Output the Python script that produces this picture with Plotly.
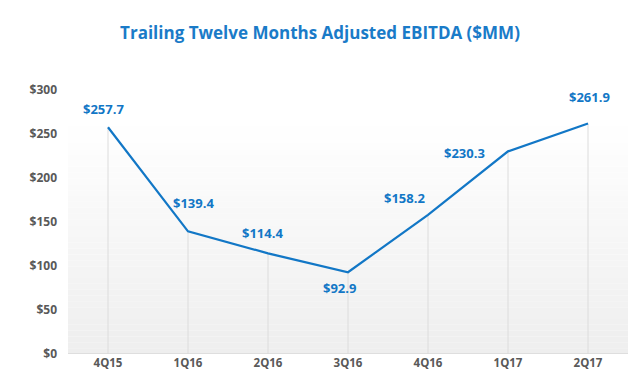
import plotly.graph_objects as go

quarters = ["4Q15", "1Q16", "2Q16", "3Q16", "4Q16", "1Q17", "2Q17"]
ebitda = [257.7, 139.4, 114.4, 92.9, 158.2, 230.3, 261.9]
y_ticks = [0, 50, 100, 150, 200, 250, 300]
y_tick_labels = ["$" + str(v) for v in y_ticks]

# label offsets (pixels) relative to each point: style only
label_dx = [-5, 5, -6, -9, -24, -44, 1]
label_dy = [18, 28, 20, -16, 17, -2, 27]

BLUE = "#1277c6"
GRAY_TXT = "#595959"
FONT = "Open Sans"

fig = go.Figure()

# vertical drop lines
fig.add_trace(go.Scatter(
    x=quarters, y=ebitda, mode="markers",
    marker=dict(size=0.1, color="rgba(0,0,0,0)"),
    error_y=dict(type="data", symmetric=False, array=[0]*len(ebitda),
                 arrayminus=ebitda, width=0, color="#dcdcdc", thickness=1),
    hoverinfo="skip", showlegend=False,
))

fig.add_trace(go.Scatter(
    x=quarters, y=ebitda, mode="lines",
    line=dict(color=BLUE, width=2.2),
    showlegend=False,
))

for q, v, dx, dy in zip(quarters, ebitda, label_dx, label_dy):
    fig.add_annotation(x=q, y=v, xref="x", yref="y", text=f"${v:.1f}",
                       showarrow=False, xshift=dx, yshift=dy,
                       font=dict(family=FONT, size=13, color=BLUE, weight="bold"))

# gradient background band (stacked thin rectangles)
n = 40
top_val = 266
for i in range(n):
    y0 = top_val * i / n
    y1 = top_val * (i + 1) / n
    t = 1 - (i + 0.5) / n  # 1 at bottom, 0 at top
    c = int(round(255 - 17 * t))
    fig.add_shape(type="rect", xref="paper", yref="y", x0=0, x1=1, y0=y0, y1=y1,
                  fillcolor=f"rgb({c},{c},{c})", line=dict(width=0), layer="below")

fig.add_shape(type="line", xref="paper", yref="y", x0=0, x1=1, y0=0, y1=0,
              line=dict(color="#d9d9d9", width=1.5), layer="above")

fig.update_layout(
    width=640, height=388,
    margin=dict(l=68, r=12, t=90, b=34),
    paper_bgcolor="white", plot_bgcolor="white",
    title=dict(text="Trailing Twelve Months Adjusted EBITDA ($MM)",
               x=0.5, xanchor="center", y=0.915, yanchor="middle",
               font=dict(family=FONT, size=17, color="#1a7bc8", weight="bold")),
    xaxis=dict(type="category", range=[-0.5, 6.5], showgrid=False, zeroline=False,
               showline=False, ticks="",
               tickfont=dict(family=FONT, size=11.5, color=GRAY_TXT, weight="bold")),
    yaxis=dict(range=[0, 300], tickvals=y_ticks, ticktext=y_tick_labels,
               showgrid=False, zeroline=False, showline=False, ticks="",
               ticklabelstandoff=10,
               tickfont=dict(family=FONT, size=12, color=GRAY_TXT, weight="bold")),
)

fig.write_html("out.html", config={"displayModeBar": False},
               post_script="document.body.style.margin='0';document.body.style.overflow='hidden';")
